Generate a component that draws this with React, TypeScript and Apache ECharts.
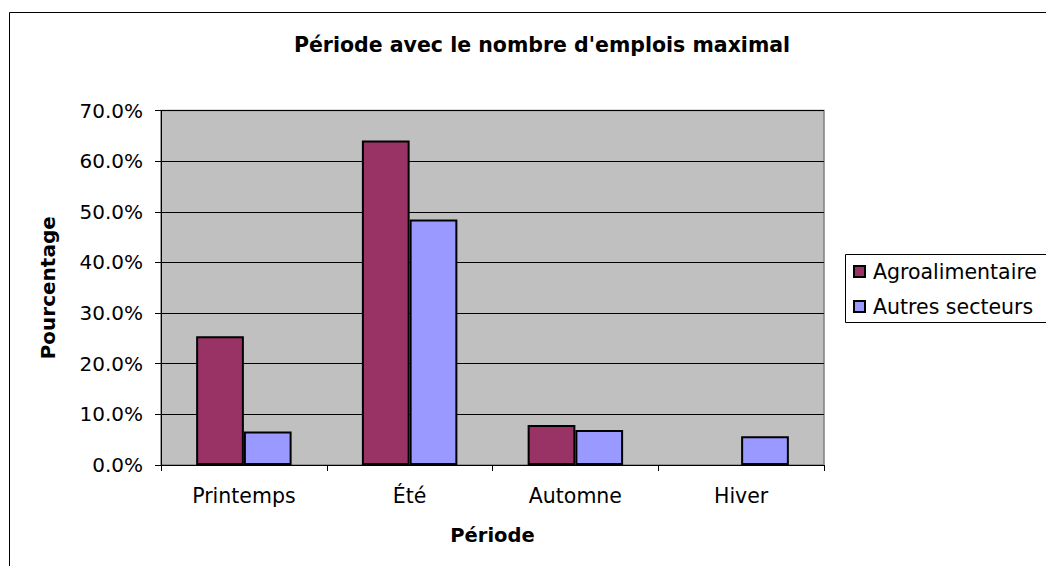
import React, { useEffect, useRef } from "react";
import * as echarts from "echarts";

const categories = ["Printemps", "Été", "Automne", "Hiver"];
const agroalimentaire: (number | null)[] = [25.4, 64.1, 7.9, null];
const autresSecteurs: number[] = [6.6, 48.5, 6.9, 5.7];
const seriesNames = ["Agroalimentaire", "Autres secteurs"];
const titleText = "Période avec le nombre d'emplois maximal";
const yAxisName = "Pourcentage";
const xAxisName = "Période";

export default function App() {
  const ref = useRef<HTMLDivElement>(null);
  useEffect(() => {
    document.body.style.margin = "0";
    const chart = echarts.init(ref.current!, null, { renderer: "svg" });
    const font = "'DejaVu Sans', Verdana, sans-serif";
    chart.setOption({
      animation: false,
      backgroundColor: "#ffffff",
      textStyle: { fontFamily: font },
      title: {
        text: titleText,
        left: 537,
        top: 29,
        textAlign: "center",
        textStyle: { fontFamily: font, fontWeight: "bold", fontSize: 20.5, color: "#000" },
      },
      graphic: [
        {
          type: "rect",
          shape: { x: 9.5, y: 12.5, width: 1100, height: 600 },
          style: { fill: "none", stroke: "#000", lineWidth: 1 },
          silent: true,
          z: -10,
        },
        {
          type: "rect",
          shape: { x: 845.5, y: 254.5, width: 300, height: 68 },
          style: { fill: "#fff", stroke: "#000", lineWidth: 1 },
          silent: true,
          z: -5,
        },
      ],
      legend: {
        orient: "vertical",
        left: 845,
        top: 254,
        padding: [7, 10, 7, 8],
        itemGap: 14,
        itemWidth: 11,
        itemHeight: 11,
        icon: "rect",
        borderWidth: 0,
        textStyle: { fontFamily: font, fontSize: 20.5, color: "#000", lineHeight: 20, padding: [0, 0, 0, 3] },
        data: seriesNames,
      },
      grid: {
        left: 161,
        right: 222,
        top: 110.5,
        bottom: 101,
        show: true,
        backgroundColor: "#C0C0C0",
        borderColor: "#808080",
        borderWidth: 1.5,
      },
      xAxis: {
        type: "category",
        data: categories,
        name: xAxisName,
        nameLocation: "middle",
        nameGap: 60,
        nameTextStyle: { fontFamily: font, fontWeight: "bold", fontSize: 19.5, color: "#000" },
        axisLine: { lineStyle: { color: "#000", width: 1 } },
        axisTick: { show: true, length: 6, lineStyle: { color: "#000" } },
        axisLabel: { fontFamily: font, fontSize: 20.5, color: "#000", margin: 20 },
      },
      yAxis: {
        type: "value",
        min: 0,
        max: 70,
        interval: 10,
        name: yAxisName,
        nameLocation: "middle",
        nameGap: 103,
        nameTextStyle: { fontFamily: font, fontWeight: "bold", fontSize: 20, color: "#000" },
        axisLine: { show: true, lineStyle: { color: "#000", width: 1 } },
        axisTick: { show: true, length: 6, lineStyle: { color: "#000" } },
        axisLabel: {
          fontFamily: font,
          fontSize: 20,
          color: "#000",
          margin: 18,
          formatter: (v: number) => v.toFixed(1) + "%",
        },
        splitLine: { show: true, lineStyle: { color: "#000", width: 1 } },
      },
      series: [
        {
          name: seriesNames[0],
          type: "bar",
          data: agroalimentaire,
          barGap: "0%",
          barCategoryGap: "42.4%",
          itemStyle: { color: "#993366", borderColor: "#000", borderWidth: 2 },
        },
        {
          name: seriesNames[1],
          type: "bar",
          data: autresSecteurs,
          itemStyle: { color: "#9999FF", borderColor: "#000", borderWidth: 2 },
        },
      ],
    });
    return () => chart.dispose();
  }, []);
  return <div ref={ref} style={{ width: 1046, height: 566 }} />;
}
